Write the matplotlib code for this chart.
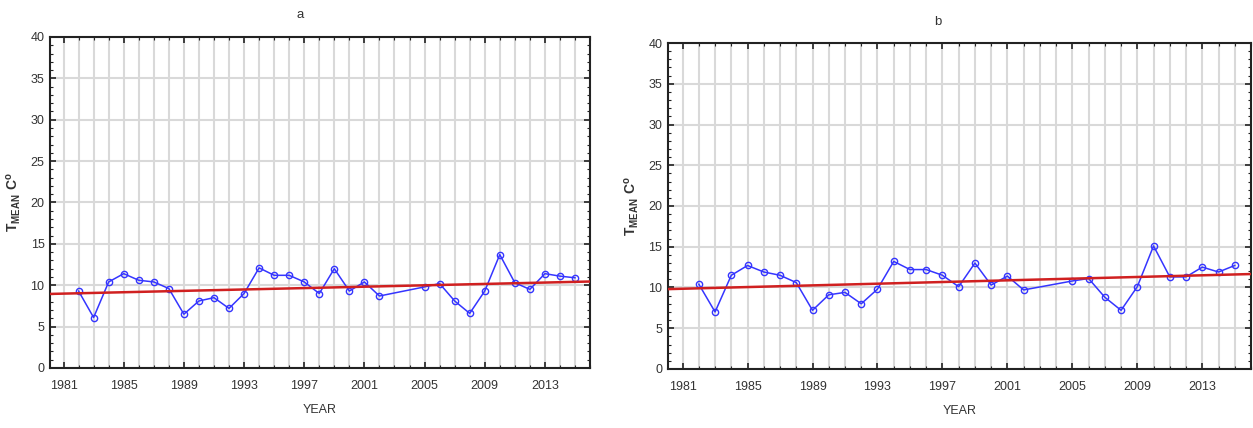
import matplotlib.pyplot as plt
import numpy as np
from matplotlib.ticker import MultipleLocator

plt.rcParams['font.family'] = ['Liberation Sans', 'DejaVu Sans']
plt.rcParams['mathtext.fontset'] = 'custom'
plt.rcParams['mathtext.rm'] = 'Liberation Sans'
plt.rcParams['mathtext.bf'] = 'Liberation Sans:bold'

# Mean annual temperature (C), 2003-2004 missing
years = [1982, 1983, 1984, 1985, 1986, 1987, 1988, 1989, 1990, 1991, 1992,
         1993, 1994, 1995, 1996, 1997, 1998, 1999, 2000, 2001, 2002,
         2005, 2006, 2007, 2008, 2009, 2010, 2011, 2012, 2013, 2014, 2015]
tmean_a = [9.3, 6.1, 10.4, 11.4, 10.6, 10.4, 9.6, 6.5, 8.1, 8.5, 7.2,
           9.0, 12.1, 11.2, 11.2, 10.4, 9.0, 12.0, 9.3, 10.4, 8.7,
           9.8, 10.2, 8.1, 6.6, 9.3, 13.7, 10.3, 9.5, 11.4, 11.1, 10.9]
tmean_b = [10.4, 7.0, 11.5, 12.7, 11.9, 11.5, 10.6, 7.2, 9.1, 9.4, 8.0,
           9.8, 13.2, 12.2, 12.2, 11.5, 10.1, 13.0, 10.3, 11.4, 9.7,
           10.8, 11.1, 8.8, 7.2, 10.1, 15.1, 11.3, 11.3, 12.5, 11.9, 12.7]

# linear trend end points (year, value)
trend_years = [1980.1, 2016.0]
trend_a = [8.95, 10.45]
trend_b = [9.8, 11.65]

panels = [
    (tmean_a, trend_a, [0.0399, 0.1402, 0.4310, 0.7734], 'a', (300, 15)),
    (tmean_b, trend_b, [0.5331, 0.1379, 0.4653, 0.7616], 'b', (938, 22)),
]

W, H = 1253, 428
fig = plt.figure(figsize=(W / 100, H / 100), dpi=100)

for vals, trend, rect, letter, (tx, ty) in panels:
    ax = fig.add_axes(rect)
    ax.plot(years, vals, color='#3535ff', linewidth=1.1, marker='o',
            markersize=4.5, markerfacecolor='none', markeredgecolor='#3535ff',
            markeredgewidth=1.0, zorder=3)
    ax.plot(trend_years, trend, color='#d02020', linewidth=1.8, zorder=4)

    ax.set_xlim(1980.1, 2016.0)
    ax.set_ylim(0, 40)
    ax.xaxis.set_minor_locator(MultipleLocator(1))
    ax.set_xticks(np.arange(1981, 2016, 4))
    ax.yaxis.set_major_locator(MultipleLocator(5))
    ax.yaxis.set_minor_locator(MultipleLocator(1))

    # light grid: every 5 degrees, every year
    ax.grid(which='major', axis='y', color='#d9d9d9', linewidth=1.5)
    ax.grid(which='both', axis='x', color='#d9d9d9', linewidth=1.5)
    ax.set_axisbelow(True)

    ax.tick_params(which='both', direction='in', top=True, right=True,
                   colors='#222222', labelcolor='#333333', labelsize=9)
    ax.tick_params(which='major', length=4, width=1.2)
    ax.tick_params(which='minor', length=2, width=0.8)
    ax.tick_params(axis='x', pad=9)
    ax.tick_params(axis='y', pad=4)

    for sp in ax.spines.values():
        sp.set_color('#222222')
        sp.set_linewidth(1.5)

    ax.set_xlabel('YEAR', fontsize=9, color='#333333', labelpad=8)
    ax.set_ylabel(r'$\mathbf{T_{MEAN}\ C^{o}}$', fontsize=10,
                  color='#333333', labelpad=5)
    fig.text(tx / W, 1 - ty / H, letter, fontsize=9.5, color='#333333',
             ha='center', va='center')

fig.savefig('out.png', dpi=100)
